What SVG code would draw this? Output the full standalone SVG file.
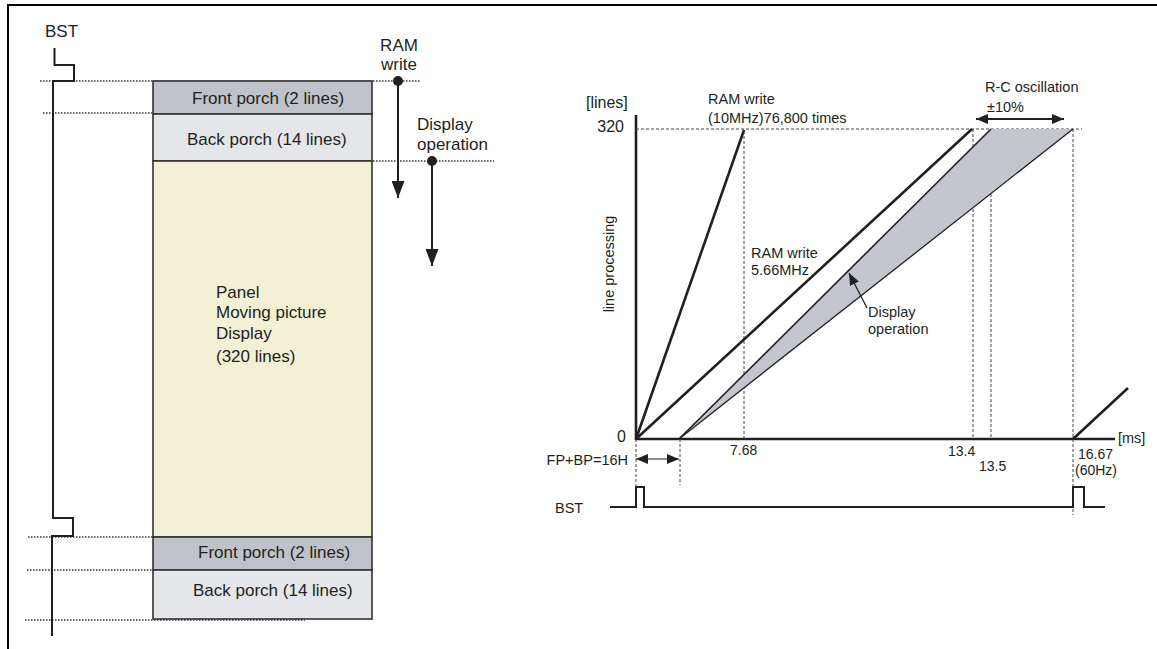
<svg xmlns="http://www.w3.org/2000/svg" width="1157" height="649" viewBox="0 0 1157 649">
<style>
text{font-family:"Liberation Sans",Arial,sans-serif;fill:#231f20}
.l{font-size:17px}
.r{font-size:14.5px}
.t{font-size:14px}
.dot{stroke:#333;stroke-width:1.3;stroke-dasharray:1.5 1.5;fill:none}
.dash{stroke:#444;stroke-width:1;stroke-dasharray:3 2;fill:none}
.thick{stroke:#231f20;stroke-width:2.6;fill:none}
.wave{stroke:#231f20;stroke-width:2;fill:none}
.box{stroke:#333;stroke-width:1.6}
</style>
<defs>
<marker id="ah" viewBox="0 0 12 10" markerWidth="12" markerHeight="10" refX="12" refY="5" orient="auto-start-reverse" markerUnits="userSpaceOnUse"><path d="M0,0 L12,5 L0,10 Z" fill="#231f20"/></marker>
<marker id="ahL" viewBox="0 0 17 13" markerWidth="17" markerHeight="13" refX="17" refY="6.5" orient="auto" markerUnits="userSpaceOnUse"><path d="M0,0 L17,6.5 L0,13 Z" fill="#231f20"/></marker>
</defs>
<rect width="1157" height="649" fill="#fff"/>
<g id="frame" stroke="#000" stroke-width="2" fill="none">
<line x1="8" y1="5" x2="1157" y2="5"/>
<line x1="8" y1="4" x2="8" y2="649"/>
</g>
<g id="guides">
<line class="dot" x1="40" y1="81" x2="421" y2="81"/>
<line class="dot" x1="43" y1="113" x2="322" y2="113"/>
<line class="dot" x1="229" y1="161" x2="494" y2="161"/>
<line class="dot" x1="28" y1="537" x2="353" y2="537"/>
<line class="dot" x1="27" y1="570" x2="305" y2="570"/>
<line class="dot" x1="25" y1="620" x2="305" y2="620"/>
</g>
<g id="bst-left">
<text class="l" x="45" y="37" font-size="16.5">BST</text>
<polyline class="wave" points="54.5,48 54.5,65 74,65 74,81 53,81 53,518 73,518 73,536 52,536 52,636"/>
</g>
<g id="front-porch-top">
<rect class="box" x="153" y="81" width="219" height="33" fill="#bfc3c9"/>
<text class="l" x="192" y="104">Front porch (2 lines)</text>
</g>
<g id="back-porch-top">
<rect class="box" x="153" y="114" width="219" height="47" fill="#e5e6e9"/>
<text class="l" x="187" y="145">Back porch (14 lines)</text>
</g>
<g id="panel">
<rect class="box" x="153" y="161" width="219" height="376" fill="#f2f1d5"/>
<text class="l" x="216" y="298">Panel</text>
<text class="l" x="216" y="318">Moving picture</text>
<text class="l" x="216" y="339">Display</text>
<text class="l" x="216" y="362">(320 lines)</text>
</g>
<g id="front-porch-bottom">
<rect class="box" x="153" y="537" width="219" height="33" fill="#bfc3c9"/>
<text class="l" x="198" y="558">Front porch (2 lines)</text>
</g>
<g id="back-porch-bottom">
<rect class="box" x="153" y="570" width="219" height="49" fill="#e5e6e9"/>
<text class="l" x="193" y="596">Back porch (14 lines)</text>
</g>
<g id="ram-write-label">
<text class="l" x="399" y="51" text-anchor="middle" font-size="16.5">RAM</text>
<text class="l" x="399" y="70" text-anchor="middle" font-size="16.5">write</text>
<circle cx="398" cy="81" r="5" fill="#231f20"/>
</g>
<g id="display-op-label">
<text class="l" x="417" y="130">Display</text>
<text class="l" x="417" y="150">operation</text>
<circle cx="432" cy="161" r="5" fill="#231f20"/>
</g>
<g id="graph-axes">
<line class="thick" x1="636" y1="115" x2="636" y2="440"/>
<line class="thick" x1="635" y1="439" x2="1115" y2="439"/>
<text x="586" y="108" font-size="16">[lines]</text>
<text x="624" y="132" font-size="16" text-anchor="end">320</text>
<text x="626" y="442" font-size="16" text-anchor="end">0</text>
<text class="r" x="1118" y="443">[ms]</text>
<text class="r" transform="translate(614,264) rotate(-90)" text-anchor="middle" font-size="15">line processing</text>
</g>
<g id="graph-guides">
<line class="dash" x1="636" y1="129" x2="1082" y2="129"/>
<line class="dash" x1="744" y1="131" x2="744" y2="439"/>
<line class="dash" x1="973" y1="129" x2="973" y2="439"/>
<line class="dash" x1="991" y1="129" x2="991" y2="439"/>
<line class="dash" x1="1073" y1="129" x2="1073" y2="515"/>
<line class="dash" x1="636" y1="439" x2="636" y2="488"/>
<line class="dash" x1="680" y1="439" x2="680" y2="485"/>
</g>
<g id="display-band">
<polygon points="679,439 991,129 1073,129" fill="#c3c7cd"/>
<line x1="679" y1="439" x2="991" y2="129" stroke="#231f20" stroke-width="1.6"/>
<line x1="679" y1="439" x2="1073" y2="129" stroke="#231f20" stroke-width="1.3"/>
</g>
<g id="ram-write-lines">
<line class="thick" x1="636" y1="439" x2="744" y2="130"/>
<line class="thick" x1="636" y1="439" x2="972" y2="129"/>
<line class="thick" x1="1073" y1="439" x2="1128" y2="388"/>
</g>
<g id="graph-labels">
<text class="r" x="708" y="104">RAM write</text>
<text class="r" x="708" y="123">(10MHz)76,800 times</text>
<text class="r" x="985" y="92">R-C oscillation</text>
<text class="r" x="987" y="112">±10%</text>
<text class="r" x="751" y="258">RAM write</text>
<text class="r" x="751" y="275">5.66MHz</text>
<text class="r" x="868" y="317">Display</text>
<text class="r" x="868" y="334">operation</text>
<text class="t" x="730" y="455">7.68</text>
<text class="t" x="948" y="456">13.4</text>
<text class="t" x="979" y="471">13.5</text>
<text class="t" x="1078" y="459">16.67</text>
<text class="t" x="1075" y="475">(60Hz)</text>
<text class="r" x="628" y="465" text-anchor="end">FP+BP=16H</text>
</g>
<g id="bst-right">
<text class="r" x="555" y="513">BST</text>
<polyline class="wave" points="610,507 636,507 636,487 644,487 644,507 1073,507 1073,487 1084,487 1084,507 1105,507"/>
</g>
<g id="connectors">
<line x1="398" y1="81" x2="398" y2="198" stroke="#231f20" stroke-width="2" marker-end="url(#ahL)"/>
<line x1="432" y1="161" x2="432" y2="266" stroke="#231f20" stroke-width="2" marker-end="url(#ahL)"/>
<line x1="976" y1="119" x2="1064" y2="119" stroke="#231f20" stroke-width="2" marker-start="url(#ah)" marker-end="url(#ah)"/>
<line x1="636" y1="459" x2="679" y2="459" stroke="#231f20" stroke-width="1.2" marker-start="url(#ah)" marker-end="url(#ah)"/>
<line x1="867" y1="308" x2="849" y2="273" stroke="#231f20" stroke-width="1.3" marker-end="url(#ah)"/>
</g>
</svg>
